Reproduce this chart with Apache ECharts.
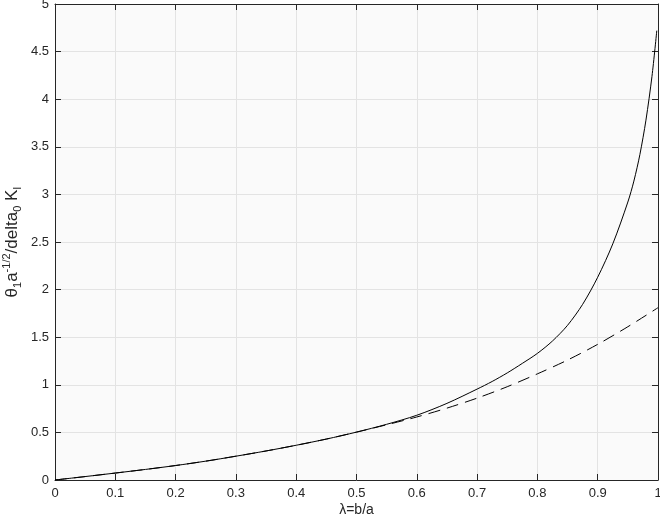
<!DOCTYPE html>
<html>
<head>
<meta charset="utf-8">
<script src="https://cdn.jsdelivr.net/npm/echarts@6/dist/echarts.min.js"></script>
<style>html,body{margin:0;padding:0;background:#fff;}#c{width:660px;height:522px;}</style>
</head>
<body>
<div id="c"></div>
<script>
// Solid curve
const lambdaSolid = [0, 0.05, 0.1, 0.15, 0.2, 0.25, 0.3, 0.35, 0.4, 0.45, 0.5, 0.55, 0.6, 0.65, 0.7, 0.725, 0.75, 0.775, 0.8, 0.825, 0.85, 0.875, 0.9, 0.925, 0.95, 0.96, 0.97, 0.98, 0.99, 0.998];
const solidValues = [0, 0.036, 0.073, 0.111, 0.152, 0.198, 0.25, 0.305, 0.365, 0.43, 0.503, 0.585, 0.68, 0.805, 0.955, 1.035, 1.125, 1.225, 1.33, 1.46, 1.625, 1.845, 2.13, 2.48, 2.92, 3.14, 3.42, 3.78, 4.24, 4.72];
// Dashed curve
const lambdaDashed = [0, 0.05, 0.1, 0.15, 0.2, 0.25, 0.3, 0.35, 0.4, 0.45, 0.5, 0.55, 0.6, 0.65, 0.7, 0.75, 0.8, 0.85, 0.9, 0.95, 1.0];
const dashedValues = [0, 0.036, 0.073, 0.111, 0.152, 0.198, 0.25, 0.305, 0.365, 0.43, 0.503, 0.58, 0.662, 0.755, 0.86, 0.98, 1.115, 1.26, 1.425, 1.61, 1.81];
// Tick labels
const xTicks = ['0', '0.1', '0.2', '0.3', '0.4', '0.5', '0.6', '0.7', '0.8', '0.9', '1'];
const yTicks = ['0', '0.5', '1', '1.5', '2', '2.5', '3', '3.5', '4', '4.5', '5'];

const solidData = lambdaSolid.map((x, i) => [x, solidValues[i]]);
const dashedData = lambdaDashed.map((x, i) => [x, dashedValues[i]]);

const axisColor = '#262626';
const font = 'Liberation Sans, Arial, Helvetica, sans-serif';

const chart = echarts.init(document.getElementById('c'), null, {renderer: 'canvas'});
chart.setOption({
  animation: false,
  backgroundColor: '#ffffff',
  grid: {left: 55, right: 2, top: 4, bottom: 42, containLabel: false, outerBoundsMode: 'none',
    show: true, backgroundColor: '#fafafa', borderWidth: 0},
  xAxis: [{
    type: 'value', min: 0, max: 1, interval: 0.1, position: 'bottom',
    name: 'λ=b/a', nameLocation: 'middle', nameGap: 23, nameMoveOverlap: false,
    nameTextStyle: {color: axisColor, fontSize: 14, fontFamily: font},
    axisLine: {show: true, onZero: false, lineStyle: {color: axisColor, width: 1}},
    axisTick: {show: true, inside: true, length: 6, lineStyle: {color: axisColor}},
    axisLabel: {color: axisColor, fontSize: 13, fontFamily: font, margin: 7,
      formatter: v => xTicks[Math.round(v * 10)]},
    splitLine: {show: true, lineStyle: {color: '#e3e3e3', width: 1}}
  }, {
    type: 'value', min: 0, max: 1, interval: 0.1, position: 'top',
    axisLine: {show: true, onZero: false, lineStyle: {color: axisColor, width: 1}},
    axisTick: {show: true, inside: true, length: 6, lineStyle: {color: axisColor}},
    axisLabel: {show: false}, splitLine: {show: false}
  }],
  yAxis: [{
    type: 'value', min: 0, max: 5, interval: 0.5, position: 'left',
    name: '{n|θ}{s|1}{n|a}{p|-1/2}{n|/delta}{s|0}{n| K}{s|I}',
    nameLocation: 'middle', nameGap: 32, nameRotate: 90, nameMoveOverlap: false,
    nameTextStyle: {
      color: axisColor, fontFamily: font,
      rich: {
        n: {fontSize: 17, fontFamily: font, color: axisColor, lineHeight: 22, verticalAlign: 'middle'},
        s: {fontSize: 11, fontFamily: font, color: axisColor, lineHeight: 22, verticalAlign: 'bottom'},
        p: {fontSize: 11, fontFamily: font, color: axisColor, lineHeight: 22, verticalAlign: 'top'}
      }
    },
    axisLine: {show: true, onZero: false, lineStyle: {color: axisColor, width: 1}},
    axisTick: {show: true, inside: true, length: 6, lineStyle: {color: axisColor}},
    axisLabel: {color: axisColor, fontSize: 13, fontFamily: font, margin: 6,
      formatter: v => yTicks[Math.round(v * 2)]},
    splitLine: {show: true, lineStyle: {color: '#e3e3e3', width: 1}}
  }, {
    type: 'value', min: 0, max: 5, interval: 0.5, position: 'right',
    axisLine: {show: true, onZero: false, lineStyle: {color: axisColor, width: 1}},
    axisTick: {show: true, inside: true, length: 6, lineStyle: {color: axisColor}},
    axisLabel: {show: false}, splitLine: {show: false}
  }],
  series: [{
    type: 'line', data: dashedData, xAxisIndex: 0, yAxisIndex: 0,
    showSymbol: false, smooth: 0.3,
    lineStyle: {color: '#000000', width: 1, type: [12, 7]}
  }, {
    type: 'line', data: solidData, xAxisIndex: 0, yAxisIndex: 0,
    showSymbol: false, smooth: 0.3,
    lineStyle: {color: '#000000', width: 1}
  }]
});
</script>
</body>
</html>
